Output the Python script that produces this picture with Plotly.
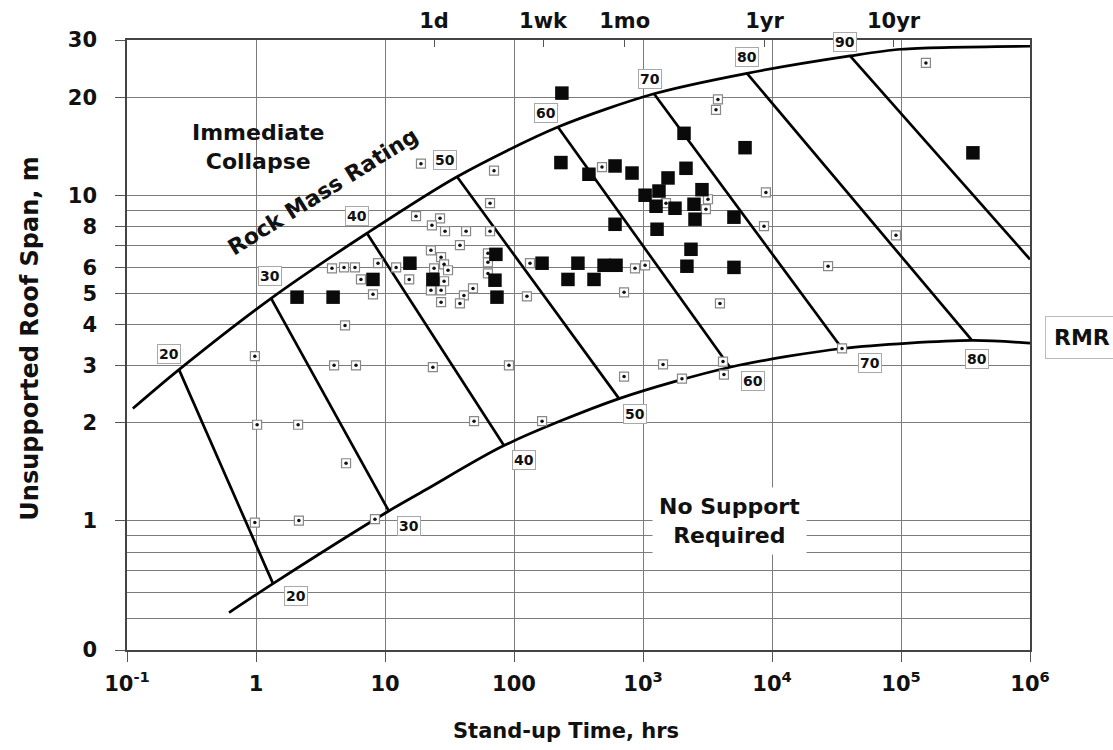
import math
import plotly.graph_objects as go

# ---------------- data (stand-up time in hrs, unsupported span in m) ----------------
upper_t = [0.111, 0.253, 1.31, 7.25, 36.2, 219, 1217, 6400, 40300, 1.0e5, 1.0e6]
upper_s = [2.21, 2.91, 4.82, 7.64, 11.4, 16.2, 20.5, 23.7, 26.8, 28.1, 28.7]
lower_t = [0.618, 1.355, 10.7, 21.2, 83.6, 652, 4720, 34900, 355000, 1.0e6]
lower_s = [0.521, 0.640, 1.07, 1.25, 1.70, 2.37, 2.96, 3.38, 3.58, 3.51]

rmr_values = [20, 30, 40, 50, 60, 70, 80, 90]
rmr_top_t = [0.253, 1.31, 7.25, 36.2, 219, 1217, 6400, 40300]
rmr_top_s = [2.91, 4.82, 7.64, 11.4, 16.2, 20.5, 23.7, 26.8]
rmr_bot_t = [1.355, 10.7, 83.6, 652, 4720, 34900, 355000, 1.0e6]
rmr_bot_s = [0.640, 1.07, 1.70, 2.37, 2.96, 3.38, 3.58, 6.35]

# RMR label positions
top_label_t = [0.212, 1.28, 6.07, 29.2, 177, 1132, 6400, 36800]
top_label_s = [3.26, 5.63, 8.62, 12.8, 17.9, 22.7, 26.6, 29.6]
bot_label_rmr = [20, 30, 40, 50, 60, 70, 80]
bot_label_t = [2.04, 15.3, 120, 867, 7130, 57500, 388000]
bot_label_s = [0.588, 0.965, 1.54, 2.12, 2.68, 3.04, 3.13]

# case histories: large filled squares
big_t = [2.08, 3.96, 8.07, 15.6, 235, 231, 381, 607, 822, 2080, 2155, 1563, 2865,
         1038, 1330, 1262, 1770, 2485, 2530, 607, 1285, 2355, 2190, 72.4, 71.2, 73.8,
         165, 313, 499, 618, 262, 417, 23.5, 6180, 5070, 5070, 361000]
big_s = [4.86, 4.86, 5.51, 6.18, 20.6, 12.6, 11.6, 12.3, 11.7, 15.5, 12.1, 11.3, 10.4,
         10.0, 10.3, 9.25, 9.12, 9.38, 8.44, 8.14, 7.86, 6.82, 6.05, 6.58, 5.48, 4.86,
         6.18, 6.18, 6.09, 6.09, 5.51, 5.51, 5.51, 14.0, 8.56, 6.0, 13.5]

# case histories: small dotted squares
small_t = [19.0, 17.4, 3.88, 4.81, 5.85, 8.83, 12.2, 6.51, 15.4, 8.07, 4.90, 0.98,
           4.03, 5.96, 1.02, 2.12, 4.99, 0.98, 2.15, 8.36, 70.0, 65.2, 26.7, 23.1,
           29.2, 42.5, 65.2, 38.1, 22.7, 27.2, 28.7, 30.8, 24.0, 62.8, 62.8, 62.8,
           28.7, 27.2, 22.7, 48.1, 40.9, 38.1, 27.2, 126, 481, 713, 867, 1038, 1507,
           3190, 3075, 3810, 3680, 3950, 133, 156000, 8970, 8670, 91400, 27200, 23.5,
           91.4, 713, 1430, 49.0, 165, 2005, 4170, 4240, 34900]
small_s = [12.5, 8.62, 5.96, 6.0, 6.0, 6.18, 6.0, 5.51, 5.51, 4.96, 3.98, 3.2,
           3.0, 3.0, 1.97, 1.97, 1.50, 0.986, 1.0, 1.01, 11.9, 9.45, 8.49, 8.08,
           7.75, 7.75, 7.75, 7.02, 6.77, 6.45, 6.13, 5.88, 5.96, 6.63, 6.22, 5.75,
           5.44, 5.10, 5.10, 5.17, 4.92, 4.65, 4.69, 4.89, 12.2, 5.03, 5.96, 6.09, 9.45,
           9.72, 9.06, 19.7, 18.3, 4.65, 6.18, 25.5, 10.2, 8.03, 7.53, 6.05, 2.96,
           3.0, 2.77, 3.02, 2.02, 2.02, 2.73, 3.08, 2.81, 3.38]

# axes
x_tick_vals = [0.1, 1, 10, 100, 1e3, 1e4, 1e5, 1e6]
x_tick_text = ["10<sup>-1</sup>", "1", "10", "100", "10<sup>3</sup>",
               "10<sup>4</sup>", "10<sup>5</sup>", "10<sup>6</sup>"]
y_tick_vals = [0.4, 1, 2, 3, 4, 5, 6, 7, 8, 10, 20, 30]
y_tick_text = ["0", "1", "2", "3", "4", "5", "6", "", "8", "10", "20", "30"]
y_minor_grid = [0.5, 0.6, 0.7, 0.8, 0.9, 9]
top_vals = [24, 168, 720, 8760, 87600]
top_text = ["1d", "1wk", "1mo", "1yr", "10yr"]

FONT = "DejaVu Sans"
GRID = "#7c7c7c"
L = math.log10

fig = go.Figure()

# boundary curves
fig.add_trace(go.Scatter(x=upper_t, y=upper_s, mode="lines",
                         line=dict(color="black", width=2.7, shape="spline", smoothing=0.8),
                         hoverinfo="skip", showlegend=False))
fig.add_trace(go.Scatter(x=lower_t, y=lower_s, mode="lines",
                         line=dict(color="black", width=2.7, shape="spline", smoothing=0.8),
                         hoverinfo="skip", showlegend=False))
# RMR contour lines
for i in range(len(rmr_values)):
    fig.add_trace(go.Scatter(x=[rmr_top_t[i], rmr_bot_t[i]], y=[rmr_top_s[i], rmr_bot_s[i]],
                             mode="lines", line=dict(color="black", width=2.7),
                             hoverinfo="skip", showlegend=False))

# data points
fig.add_trace(go.Scatter(x=small_t, y=small_s, mode="markers",
                         marker=dict(symbol="square", size=9, color="white",
                                     line=dict(color="#888888", width=1.2)),
                         showlegend=False))
fig.add_trace(go.Scatter(x=small_t, y=small_s, mode="markers",
                         marker=dict(symbol="circle", size=3.5, color="#111111"),
                         showlegend=False))
fig.add_trace(go.Scatter(x=big_t, y=big_s, mode="markers",
                         marker=dict(symbol="square", size=13.5, color="#0a0a0a"),
                         showlegend=False))
# dummy trace for the top time axis
fig.add_trace(go.Scatter(x=top_vals, y=[None] * len(top_vals), xaxis="x2", yaxis="y",
                         mode="markers", showlegend=False, hoverinfo="skip"))

ann = []
box = dict(bgcolor="white", bordercolor="#a8a8a8", borderwidth=1, borderpad=1,
           showarrow=False, font=dict(family=FONT, size=14, color="#111", weight="bold"))
for r, t, s in zip(rmr_values, top_label_t, top_label_s):
    ann.append(dict(x=L(t), y=L(s), xref="x", yref="y", text=str(r), **box))
for r, t, s in zip(bot_label_rmr, bot_label_t, bot_label_s):
    ann.append(dict(x=L(t), y=L(s), xref="x", yref="y", text=str(r), **box))

big_font = dict(family=FONT, size=22, color="#111", weight="bold")
ann.append(dict(x=L(1.04), y=L(14.1), xref="x", yref="y", text="Immediate<br>Collapse",
                showarrow=False, font=big_font))
ann.append(dict(x=L(3.3), y=L(10.3), xref="x", yref="y", text="Rock Mass Rating",
                textangle=-32, showarrow=False, font=big_font))
ann.append(dict(x=L(4720), y=L(1.0), xref="x", yref="y", text="No Support<br>Required",
                showarrow=False, font=big_font, bgcolor="white", borderpad=6))
ann.append(dict(x=1.0166, y=0.513, xref="paper", yref="paper", xanchor="left",
                yanchor="middle", text="RMR", showarrow=False, font=big_font,
                bgcolor="white", bordercolor="#bbbbbb", borderwidth=1, borderpad=8))
ann.append(dict(x=0.486, y=-0.132, xref="paper", yref="paper", xanchor="center",
                yanchor="middle", text="Stand-up Time, hrs", showarrow=False,
                font=dict(family=FONT, size=21, color="#111", weight="bold")))
ann.append(dict(x=-0.107, y=0.511, xref="paper", yref="paper", xanchor="center",
                yanchor="middle", text="Unsupported Roof Span, m", textangle=-90,
                showarrow=False, font=dict(family=FONT, size=24, color="#111", weight="bold")))

tick_font = dict(family=FONT, size=21, color="#111", weight="bold")
fig.update_layout(
    width=1113, height=750,
    margin=dict(l=127, r=83, t=40, b=100, autoexpand=False),
    paper_bgcolor="white", plot_bgcolor="white",
    showlegend=False,
    annotations=ann,
    xaxis=dict(type="log", range=[-1, 6], tickmode="array", tickvals=x_tick_vals,
               ticktext=x_tick_text, ticks="outside", ticklen=10, tickcolor="#555",
               showgrid=True, gridcolor=GRID, gridwidth=1, zeroline=False,
               showline=True, linecolor="#444", linewidth=1.5, mirror=True,
               tickfont=tick_font, ticklabelstandoff=4, automargin=False),
    xaxis2=dict(type="log", range=[-1, 6], overlaying="x", side="top", anchor="y",
                tickmode="array", tickvals=top_vals, ticktext=top_text,
                ticks="inside", ticklen=7, tickcolor="#555", showgrid=False,
                showline=False, zeroline=False, tickfont=tick_font,
                ticklabelstandoff=7, automargin=False),
    yaxis=dict(type="log", range=[L(0.4), L(30)], tickmode="array", tickvals=y_tick_vals,
               ticktext=y_tick_text, ticks="outside", ticklen=10, tickcolor="#555",
               showgrid=True, gridcolor=GRID, gridwidth=1, zeroline=False,
               minor=dict(tickmode="array", tickvals=y_minor_grid, showgrid=True,
                          gridcolor=GRID, gridwidth=1, ticks=""),
               showline=True, linecolor="#444", linewidth=1.5, mirror=True,
               tickfont=tick_font, ticklabelstandoff=14, automargin=False),
)

fig.write_html("out.html", config={"displayModeBar": False},
               post_script="document.body.style.margin='0';"
               "document.body.style.overflow='hidden';")
